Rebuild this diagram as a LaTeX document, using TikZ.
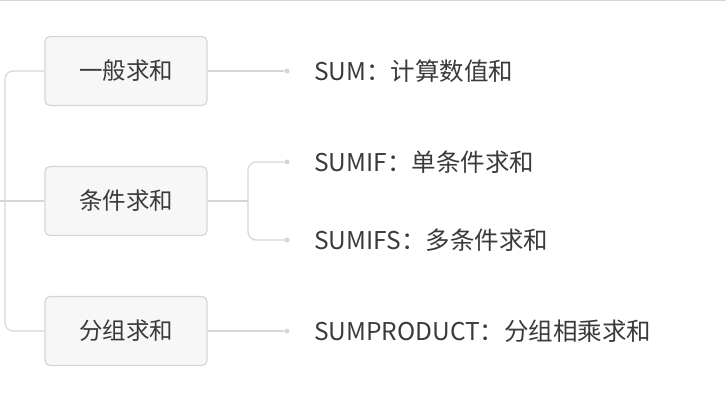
\documentclass[tikz,border=0pt]{standalone}
\usepackage{fontspec}
\setmainfont{Noto Sans CJK SC}
\usetikzlibrary{positioning}
\definecolor{linegray}{HTML}{D6D6D6}
\definecolor{boxfill}{HTML}{F7F7F7}
\definecolor{textgray}{HTML}{3A3A3A}
\tikzset{
	grp/.style={draw=linegray, line width=1.2pt, fill=boxfill, rounded corners=5pt,
		minimum width=162pt, minimum height=69pt, font=\fontsize{23.5}{26}\selectfont, text=textgray},
	dot/.style={circle, fill=linegray, inner sep=0pt, minimum size=5pt},
	leaf/.style={anchor=west, inner sep=0pt, font=\fontsize{24.5}{27}\selectfont, text=textgray},
	conn/.style={draw=linegray, line width=1.2pt, rounded corners=8pt}
}
\begin{document}
\begin{tikzpicture}[x=1pt,y=-1pt]
	\useasboundingbox (0,0) rectangle (726,409);
	\draw[linegray, line width=1.2pt] (0,0.6) -- (726,0.6);
	
	\coordinate (root) at (0,201);
	\coordinate (spine) at (5,201);
	\node[grp] at (126,71) (g1) {一般求和};
	\node[grp] at (126,201) (g2) {条件求和};
	\node[grp] at (126,331) (g3) {分组求和};
	
	\node[dot] at (287,71) (d1) {};
	\node[dot] at (287,162) (d2) {};
	\node[dot] at (287,240) (d3) {};
	\node[dot] at (287,331) (d4) {};
	\node[leaf] at (314,71) (l1) {SUM：计算数值和};
	\node[leaf] at (314,162) (l2) {SUMIF：单条件求和};
	\node[leaf] at (314,240) (l3) {SUMIFS：多条件求和};
	\node[leaf] at (314,331) (l4) {SUMPRODUCT：分组相乘求和};
	
	\draw[conn] (root) -- (g2.west);
	\draw[conn] (g1.west) -| (spine) |- (g3.west);
	\draw[conn] (g1.east) -- (d1);
	\draw[conn] (g3.east) -- (d4);
	\coordinate (fork) at (248,201);
	\draw[conn] (g2.east) -- (fork);
	\draw[conn] (d2) -| (fork) |- (d3);
\end{tikzpicture}
\end{document}
